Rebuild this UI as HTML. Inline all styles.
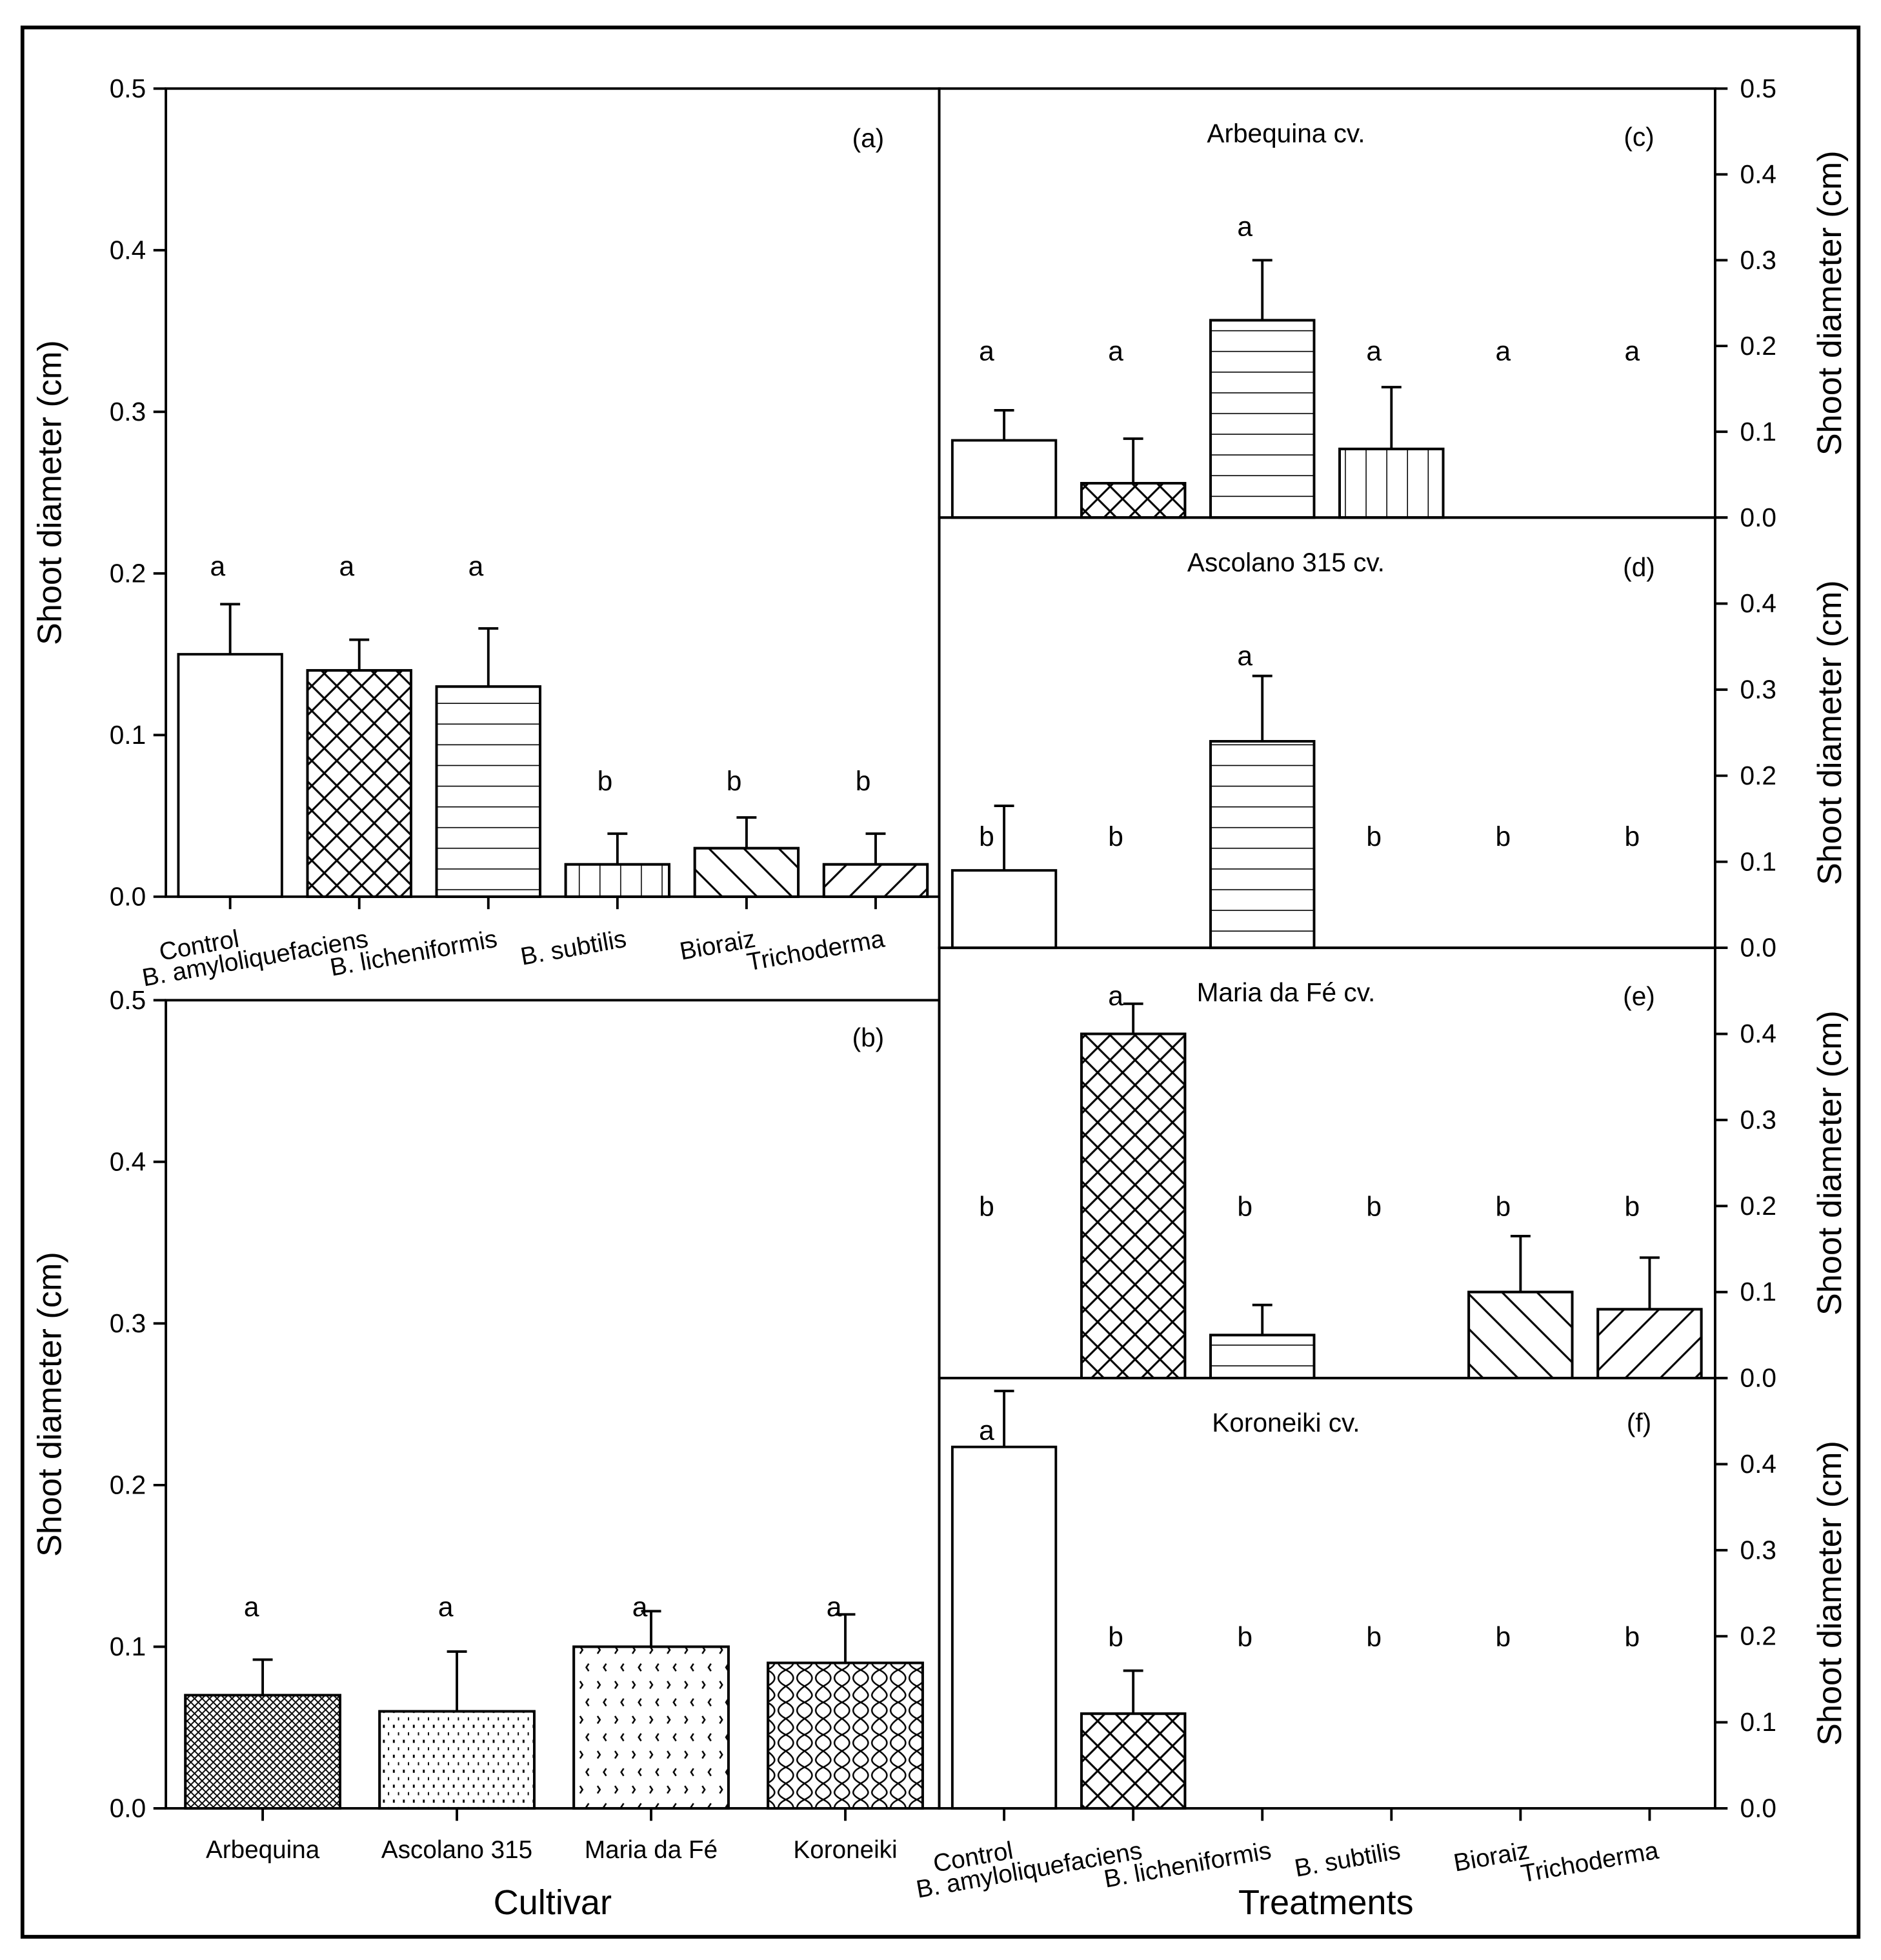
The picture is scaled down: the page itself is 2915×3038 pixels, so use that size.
<!DOCTYPE html>
<html><head><meta charset="utf-8"><style>
html,body{margin:0;padding:0;background:#fff;}
svg{display:block;font-family:"Liberation Sans",Arial,sans-serif;}
</style></head><body>
<svg id="chart" xmlns="http://www.w3.org/2000/svg" width="2915" height="3038" viewBox="0 0 1508 1571.6">
<defs>
<pattern id="p-cross" patternUnits="userSpaceOnUse" width="20" height="20"><path d="M0,0 L20,20 M20,0 L0,20" stroke="#000" stroke-width="1.6"/></pattern>
<pattern id="p-horiz" patternUnits="userSpaceOnUse" width="20" height="16.6"><path d="M0,16.6 L20,16.6" stroke="#000" stroke-width="1.6"/></pattern>
<pattern id="p-vert" patternUnits="userSpaceOnUse" width="16.6" height="20"><path d="M16.6,0 L16.6,20" stroke="#000" stroke-width="1.6"/></pattern>
<pattern id="p-back" patternUnits="userSpaceOnUse" width="28" height="28"><path d="M0,0 L28,28 M-14,14 L14,42 M14,-14 L42,14" stroke="#000" stroke-width="1.6"/></pattern>
<pattern id="p-fwd" patternUnits="userSpaceOnUse" width="28" height="28"><path d="M0,28 L28,0 M-14,14 L14,-14 M14,42 L42,14" stroke="#000" stroke-width="1.6"/></pattern>
<pattern id="p-fine" patternUnits="userSpaceOnUse" width="6" height="6"><path d="M0,0 L6,6 M6,0 L0,6" stroke="#000" stroke-width="1"/></pattern>
<pattern id="p-dots" patternUnits="userSpaceOnUse" width="8" height="12"><rect x="3" y="3" width="1.5" height="2.5" fill="#000"/><rect x="7" y="9" width="1.5" height="2.5" fill="#000"/></pattern>
<pattern id="p-sparse" patternUnits="userSpaceOnUse" width="14" height="28"><path d="M3,4 l2,3 l-2,3 M10,18 l-2,3 l2,3" stroke="#000" stroke-width="1.3" fill="none"/></pattern>
<pattern id="p-wave" patternUnits="userSpaceOnUse" width="15" height="26"><path d="M0,0 C8,6 8,9 0,13 C8,17 8,22 0,26 M15,0 C7,6 7,9 15,13 C7,17 7,22 15,26" stroke="#000" stroke-width="1.3" fill="none"/></pattern>
</defs>
<rect x="18" y="22" width="1472" height="1531" fill="none" stroke="#000" stroke-width="3"/>
<g id="plots"></g>
</svg>
<script>
const NS="http://www.w3.org/2000/svg";
const treatments=["Control","B. amyloliquefaciens","B. licheniformis","B. subtilis","Bioraiz","Trichoderma"];
const cultivars=["Arbequina","Ascolano 315","Maria da Fé","Koroneiki"];
const aValues=[0.15,0.14,0.13,0.02,0.03,0.02];
const aErrors=[0.031,0.019,0.036,0.019,0.019,0.019];
const aLetters=["a","a","a","b","b","b"];
const bValues=[0.07,0.06,0.10,0.09];
const bErrors=[0.022,0.037,0.022,0.030];
const bLetters=["a","a","a","a"];
const cValues=[0.09,0.04,0.23,0.08,null,null];
const cErrors=[0.035,0.052,0.07,0.072,null,null];
const cLetters=["a","a","a","a","a","a"];
const dValues=[0.09,null,0.24,null,null,null];
const dErrors=[0.075,null,0.076,null,null,null];
const dLetters=["b","b","a","b","b","b"];
const eValues=[null,0.40,0.05,null,0.10,0.08];
const eErrors=[null,0.035,0.035,null,0.065,0.06];
const eLetters=["b","a","b","b","b","b"];
const fValues=[0.42,0.11,null,null,null,null];
const fErrors=[0.065,0.05,null,null,null,null];
const fLetters=["a","b","b","b","b","b"];
const leftTicks=["0.0","0.1","0.2","0.3","0.4","0.5"];
const rightTicks=["0.0","0.1","0.2","0.3","0.4","0.5"];
const rightTicksInner=["0.0","0.1","0.2","0.3","0.4",""];
const treatFills=["none","url(#p-cross)","url(#p-horiz)","url(#p-vert)","url(#p-back)","url(#p-fwd)"];
const cultFills=["url(#p-fine)","url(#p-dots)","url(#p-sparse)","url(#p-wave)"];
const root=document.getElementById('plots');
function el(tag,attrs,parent){const e=document.createElementNS(NS,tag);for(const k in attrs)e.setAttribute(k,attrs[k]);(parent||root).appendChild(e);return e;}
function txt(s,attrs,parent){const t=el('text',attrs,parent);t.textContent=s;return t;}

function panel(o){
  const g=el('g',{});
  
  
  const y=v=>o.y0-(v/o.max)*(o.y0-o.y1);
  const xc=i=>o.xStart+i*o.step;
  o.values.forEach((v,i)=>{
    if(v===null)return;
    const r=el('rect',{x:xc(i)-o.bw/2,y:y(v),width:o.bw,height:o.y0-y(v),fill:"#fff",stroke:"#000","stroke-width":2},g);
    
    
    if(o.fills[i]!=="none"){const h=el('rect',{x:xc(i)-o.bw/2,y:y(v),width:o.bw,height:o.y0-y(v),fill:o.fills[i],stroke:"#000","stroke-width":2},g);
      
      }
    const e=o.errors[i];
    const eb=el('path',{d:`M${xc(i)},${y(v)} L${xc(i)},${y(v+e)} M${xc(i)-8},${y(v+e)} L${xc(i)+8},${y(v+e)}`,stroke:"#000","stroke-width":2,fill:"none"},g);
    
    
  });
  o.letters.forEach((l,i)=>{
    const ly=y(o.letterY[i])+8;
    const t=txt(l,{x:xc(i)-o.letterOff,y:ly,"font-size":22,"text-anchor":"middle"},g);
    
    
  });
  const f=el('rect',{x:o.xL,y:o.y1,width:o.xR-o.xL,height:o.y0-o.y1,fill:"none",stroke:"#000","stroke-width":2},g);
  
  
  const ax=o.side==='left'?o.xL:o.xR;
  o.ticks.forEach((s,k)=>{
    const v=k*0.1; const yy=y(v);
    const dir=o.side==='left'?-1:1;
    el('line',{x1:ax,y1:yy,x2:ax+dir*10,y2:yy,stroke:"#000","stroke-width":2},g);
    if(!s)return;
    const t=txt(s,{x:o.side==='left'?ax-16:ax+20,y:yy+7,"font-size":21,"text-anchor":o.side==='left'?'end':'start'},g);
    
    
  });
  const tx=o.side==='left'?49:1476; const ty=(o.y0+o.y1)/2;
  const yt=txt("Shoot diameter (cm)",{x:tx,y:ty,"font-size":27,"text-anchor":"middle",transform:`rotate(-90 ${tx} ${ty})`},g);
  
  
  const pt=txt(o.tag,{x:o.tagX,y:o.tagY,"font-size":21,"text-anchor":"middle"},g);
  
  
  if(o.title){const st=txt(o.title,{x:1031,y:o.y1+43,"font-size":21,"text-anchor":"middle"},g);
    
    }
  if(o.xLabels){
    o.xLabels.forEach((s,i)=>{
      el('line',{x1:xc(i),y1:o.y0,x2:xc(i),y2:o.y0+10,stroke:"#000","stroke-width":2},g);
      const lx=xc(i)+(o.labelDx||0), ly=o.y0+o.labelDy;
      const t=txt(s,{x:lx,y:ly,"font-size":20,"text-anchor":o.anchor||"middle",transform:o.rot?`rotate(${o.rot} ${lx} ${ly})`:""},g);
      
      
    });
  }
  return g;
}
panel({name:"panel-a",xL:133,xR:753,y0:719,y1:71,max:0.5,values:aValues,errors:aErrors,letters:aLetters,fills:treatFills,xStart:184.5,step:103.5,bw:83,letterOff:10,letterY:[0.205,0.205,0.205,0.072,0.072,0.072],ticks:leftTicks,side:'left',tag:"(a)",tagX:696,tagY:118,xLabels:treatments,labelDx:8,labelDy:40,anchor:"end",rot:-10});
panel({name:"panel-b",xL:133,xR:753,y0:1450,y1:802,max:0.5,values:bValues,errors:bErrors,letters:bLetters,fills:cultFills,xStart:210.6,step:155.7,bw:124,letterOff:9,letterY:[0.125,0.125,0.125,0.125],ticks:leftTicks,side:'left',tag:"(b)",tagX:696,tagY:839,xLabels:cultivars,labelDx:0,labelDy:40,anchor:"middle",rot:0});
panel({name:"panel-c",xL:753,xR:1375,y0:415,y1:71,max:0.5,values:cValues,errors:cErrors,letters:cLetters,fills:treatFills,xStart:805,step:103.5,bw:83,letterOff:14,letterY:[0.195,0.195,0.34,0.195,0.195,0.195],ticks:rightTicks,side:'right',tag:"(c)",tagX:1314,tagY:117,title:"Arbequina cv."});
panel({name:"panel-d",xL:753,xR:1375,y0:760,y1:415,max:0.5,values:dValues,errors:dErrors,letters:dLetters,fills:treatFills,xStart:805,step:103.5,bw:83,letterOff:14,letterY:[0.13,0.13,0.34,0.13,0.13,0.13],ticks:rightTicksInner,side:'right',tag:"(d)",tagX:1314,tagY:462,title:"Ascolano 315 cv."});
panel({name:"panel-e",xL:753,xR:1375,y0:1105,y1:760,max:0.5,values:eValues,errors:eErrors,letters:eLetters,fills:treatFills,xStart:805,step:103.5,bw:83,letterOff:14,letterY:[0.2,0.445,0.2,0.2,0.2,0.2],ticks:rightTicksInner,side:'right',tag:"(e)",tagX:1314,tagY:806,title:"Maria da Fé cv."});
panel({name:"panel-f",xL:753,xR:1375,y0:1450,y1:1105,max:0.5,values:fValues,errors:fErrors,letters:fLetters,fills:treatFills,xStart:805,step:103.5,bw:83,letterOff:14,letterY:[0.44,0.2,0.2,0.2,0.2,0.2],ticks:rightTicksInner,side:'right',tag:"(f)",tagX:1314,tagY:1148,title:"Koroneiki cv.",xLabels:treatments,labelDx:8,labelDy:40,anchor:"end",rot:-10});
const x1=txt("Cultivar",{x:443,y:1535,"font-size":28,"text-anchor":"middle"});


const x2=txt("Treatments",{x:1063,y:1535,"font-size":28,"text-anchor":"middle"});


</script>
</body></html>
